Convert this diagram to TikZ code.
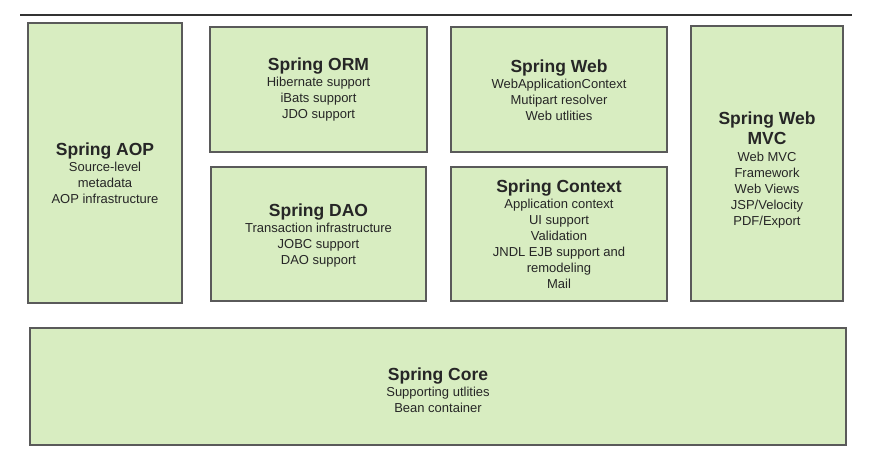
\documentclass[tikz,border=0pt]{standalone}
\usepackage{fontspec}
\setmainfont{Liberation Sans}
\usepackage{tikz}
\usetikzlibrary{shadows}
\definecolor{modgreen}{RGB}{216, 237, 193}
\definecolor{modborder}{RGB}{90, 90, 90}
\definecolor{topline}{RGB}{51, 51, 51}
\tikzstyle{module}=[rectangle, draw=modborder, line width=1.4pt, fill=modgreen, inner sep=0pt,
  drop shadow={shadow xshift=1pt, shadow yshift=-1.2pt, opacity=0.35}]
\tikzstyle{modtext}=[align=center, inner sep=0pt, text=black!85, font=\fontsize{13}{16}\selectfont]
\newcommand{\modtitle}[1]{{\fontsize{17.5}{17}\selectfont\bfseries #1}}

\begin{document}
\begin{tikzpicture}[x=1pt, y=1pt]
      %
      \path[use as bounding box] (0,0) rectangle (880,-459);
      %
      % rule on top
      %
      \coordinate (ruleleft) at (20,-15);
      \coordinate (ruleright) at (852,-15);
      \draw[topline, line width=2pt] (ruleleft) -- (ruleright);
      %
      % Spring AOP
      %
      \node[module, minimum width=154, minimum height=280] (aop) at (105,-163) {};
      \node[modtext] (aoptext) at ([yshift=-10.5]aop.center)
        {\modtitle{Spring AOP}\\Source-level\\metadata\\AOP infrastructure};
      %
      % Spring ORM
      %
      \node[module, minimum width=217, minimum height=125] (orm) at (318.5,-89.5) {};
      \node[modtext] (ormtext) at ([yshift=-0.5]orm.center)
        {\modtitle{Spring ORM}\\Hibernate support\\iBats support\\JDO support};
      %
      % Spring DAO
      %
      \node[module, minimum width=215, minimum height=134] (dao) at (318.5,-234) {};
      \node[modtext] (daotext) at ([yshift=-1]dao.center)
        {\modtitle{Spring DAO}\\Transaction infrastructure\\JOBC support\\DAO support};
      %
      % Spring Web
      %
      \node[module, minimum width=216, minimum height=125] (web) at (559,-89.5) {};
      \node[modtext] (webtext) at ([yshift=-0.5]web.center)
        {\modtitle{Spring Web}\\WebApplicationContext\\Mutipart resolver\\Web utlities};
      %
      % Spring Context
      %
      \node[module, minimum width=216, minimum height=134] (context) at (559,-234) {};
      \node[modtext] (contexttext) at ([yshift=-0.5]context.center)
        {\modtitle{Spring Context}\\Application context\\UI support\\Validation\\JNDL EJB support and\\remodeling\\Mail};
      %
      % Spring Web MVC
      %
      \node[module, minimum width=152, minimum height=275] (mvc) at (767,-163.5) {};
      \node[modtext] (mvctext) at ([yshift=-6.5]mvc.center)
        {\modtitle{Spring Web}\\[4pt]\modtitle{MVC}\\[1pt]Web MVC\\Framework\\Web Views\\JSP/Velocity\\PDF/Export};
      %
      % Spring Core
      %
      \node[module, minimum width=816, minimum height=117] (core) at (438,-386.5) {};
      \node[modtext] (coretext) at ([yshift=-3.5]core.center)
        {\modtitle{Spring Core}\\Supporting utlities\\Bean container};
      %
    \end{tikzpicture}
\end{document}
